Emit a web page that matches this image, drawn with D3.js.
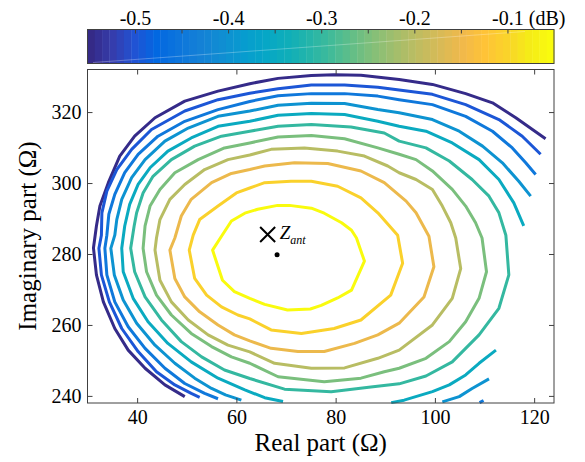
<!DOCTYPE html>
<html lang="en">
<head>
<meta charset="UTF-8">
<title>Contour</title>
<script src="https://cdn.jsdelivr.net/npm/d3@7"></script>
<style>
    body { margin: 0; background: #fff; }
    text { font-family: "Liberation Serif", "Times New Roman", serif; fill: #000; }
    .ax path { display: none; }
    .ax line { stroke: #404040; }
    .ax text { font-size: 20px; font-family: "Liberation Serif", "Times New Roman", serif; }
</style>
</head>
<body>
<svg id="chart" width="585" height="462"></svg>
<script>
// axis ranges and ticks
var xDomain = [30, 124];
var yDomain = [238, 332];
var cDomain = [-0.551, -0.05];
var xTicks = [40, 60, 80, 100, 120];
var yTicks = [240, 260, 280, 300, 320];
var cTicks = [-0.5, -0.45, -0.4, -0.35, -0.3, -0.25, -0.2, -0.15, -0.1];

// parula colormap stops
var parulaStops = ["#352a87", "#353dad", "#2053d4", "#0268e1", "#0d75dc", "#1481d6", "#108ed2", "#079ccf",
    "#06a7c6", "#0faeb9", "#25b5a9", "#42bb98", "#65be86", "#87bf77", "#a5be6b", "#c0bc60",
    "#d9ba56", "#f1b94a", "#ffc337", "#fad32a", "#f5eb18", "#f9fb0e"];

// contour lines, [real, imag] in ohm
var lvl055 = [[122.3,312.5],[116.3,318.4],[111.6,322.6],[106.2,325.2],[99.5,327.8],[92.8,329.2],[85.1,330.4],[79.7,330.5],[75.1,330.3],[68.4,329.5],[62.7,328],[56.3,325.9],[49.6,323.1],[43.6,318.4],[39.5,313.2],[36.5,307.6],[34.2,300.1],[32.5,293.5],[31.8,287.9],[31.2,281.7],[31.8,274.1],[33.2,266.5],[35.5,259],[38.2,252.9],[41.6,247.8],[45.6,243.1],[49.6,239.8]];
var lvl050 = [[121.3,308.1],[117.6,313.2],[112.9,317.9],[106.2,322.1],[99.5,325],[92.8,326.2],[88.5,327],[81.8,327.6],[75.1,327.6],[68.4,326.6],[62.7,325.3],[56.3,323.5],[49.6,320.3],[42.9,315.1],[38.9,309.5],[35.9,303.8],[33.9,297.7],[32.9,291.6],[32.8,285.3],[32.3,281.6],[32.8,274.1],[34.4,266.5],[36.9,259],[40.2,252.5],[43.9,246.8],[47.6,243.1],[50.9,240.7],[52.6,239.6]];
var lvl045 = [[120.3,302.4],[118.3,305.7],[115.6,309.9],[111.6,314.6],[106.2,318.8],[99.5,322.1],[92.8,323.5],[88.5,324.5],[81.8,325.2],[75.1,325.2],[68.4,324.6],[62.7,323],[56.3,320.7],[49.6,317.4],[44.2,313.2],[40.2,308.1],[37.5,302.9],[35.5,296.8],[34.3,291.2],[33.9,285.3],[33.5,281.6],[33.9,274.1],[35.5,266.5],[38.2,259.5],[41.6,253.4],[45.6,247.8],[49.6,243.5],[53.6,240.7],[56.3,239.2]];
var lvl045b = [[109.8,238.7],[109.0,238.1]];
var lvl040 = [[119.3,296.3],[116.9,300.5],[113.6,305.7],[109.6,310.4],[104.9,314.6],[99.5,317.9],[92.8,319.8],[88.5,320.7],[81.8,322.4],[75.1,322.5],[68.4,321.9],[62.7,320.3],[56.3,318.8],[50.3,315.5],[45.6,311.8],[41.6,306.6],[38.9,301.5],[36.9,295.4],[35.9,289.7],[35.5,285.3],[34.7,281.6],[35.4,274.1],[37.2,267],[39.9,260.5],[43.6,254.3],[47.6,249.2],[51.6,245],[55,242.1],[57.8,240.3],[61,238.8]];
var lvl040b = [[110.9,244.8],[107.5,242.1],[104.9,239.8],[101.5,238.3]];
var lvl035 = [[117.9,287.9],[115.9,294.4],[112.9,301],[108.9,306.6],[103.5,311.3],[98.2,314.6],[92.8,316],[88.5,317.4],[81.8,319.3],[75.1,319.6],[68.4,319.1],[62.7,317.4],[56.3,316],[50.9,312.7],[46.2,309],[42.6,304.3],[40.2,299.6],[38.5,294],[37.5,287.9],[36.9,281.6],[37.2,275],[39.2,267.5],[42.2,260.9],[46.2,254.8],[50.9,249.6],[56.3,245],[61.7,241.7],[65.7,239.5],[69.4,238.4]];
var lvl035b = [[112.3,252.9],[108.9,249.2],[106.2,245.9],[102.9,243.1],[99.5,241.2],[93.8,238.8],[91.2,238.1]];
var lvl030 = [[62.7,314.6],[57,313.2],[51.6,310.4],[46.9,306.6],[43.2,301.9],[41.2,297.2],[39.9,291.6],[39.4,287.9],[38.7,281.6],[39.5,275],[41.6,267.9],[44.9,261.4],[48.9,255.3],[53,251],[57.6,247.3],[62.7,244.9],[69.7,241.9],[79.1,241.2],[87.1,242.5],[92.8,243.4],[98.2,245.6],[103.5,249.6],[108.9,257.2],[112.9,264.7],[114.9,274.1],[114.3,285.3],[112.9,291.6],[110.9,296.3],[107.5,301],[102.9,306.2],[98.2,309.9],[92.8,311.8],[89.8,314.1],[83.1,315.8],[75.1,316.5],[68.4,316]];
var lvl025 = [[62.7,311.3],[57.6,309.9],[52.3,306.6],[47.6,302.9],[44.6,298.2],[42.6,293.5],[41.6,287.9],[41.2,281.6],[41.9,275],[43.9,268.4],[46.9,262.8],[50.9,257.6],[55,253.9],[59,251],[62.7,249.2],[68.4,245.4],[77.7,244],[85.1,245],[89.8,246.8],[92.8,247.8],[98.2,250.6],[102.9,255.3],[106.2,260.9],[108.9,267.5],[110.4,275],[109.5,284.5],[108.2,288.8],[106.2,293.5],[103.5,298.2],[99.5,303.4],[96.2,306.6],[92.8,308.1],[88.5,309.9],[81.8,312.5],[75.1,313.4],[68.4,313]];
var lvl020 = [[62.7,307.9],[58.3,306.6],[53.6,303.8],[49.6,299.6],[46.6,295.4],[44.6,289.7],[43.9,284.5],[43.6,281.1],[44.6,272.6],[46.9,266.5],[50.3,261.4],[54.3,257.2],[58.3,254.3],[62.7,252.4],[67.7,249.2],[75.1,247.8],[81.8,247.9],[88.5,250.6],[92.8,252.9],[99.5,260],[103.5,267.5],[105.2,275.9],[104.2,284.5],[103.2,288.8],[101.5,293.5],[99.5,298.2],[96.2,301],[92.8,302.9],[90.5,304.8],[85.8,307.6],[80.4,309],[73.7,309.9],[67,309.5]];
var lvl015 = [[62.7,303.8],[59,302.7],[55,300.1],[50.9,295.4],[48.9,290.7],[47.6,284.5],[46.6,281.1],[47.6,273.1],[49.6,267.9],[52.6,263.7],[56.3,260],[59.6,257.2],[62.7,255.5],[67,253.4],[72.4,252.5],[77.7,252.5],[83.8,254.8],[88.5,257.2],[92.8,260.5],[97.8,267.9],[99.8,276.4],[98.8,285],[96.2,291.6],[94.2,294.9],[89.8,300.1],[85.1,303.4],[78.4,305.5],[71.7,305.7],[65.7,304.8]];
var lvl010 = [[62.7,298.6],[60,297.2],[56.3,293.5],[52.6,289.7],[51.3,285.3],[50.5,281.1],[51.6,273.1],[54,268.4],[57,265.1],[60.3,262.8],[62.7,261.7],[67,258.6],[73.1,257.6],[79.7,259],[85.1,261.4],[91.1,268.4],[93.5,277.4],[92.5,285.3],[88.5,291.6],[85.1,295.8],[80.4,299.1],[75.1,300.5],[71,300.5],[65.7,300.1]];
var lvl005 = [[55.2,281.1],[57,285],[59,289.3],[61.7,291.5],[64.3,292.6],[68.3,293.7],[70.7,293.7],[75.1,292.9],[77.7,291.5],[81.2,288.8],[83.2,286.7],[84.2,284.5],[85.8,278],[83.2,269.8],[80.4,267.6],[77.1,265.5],[74.9,264.5],[70.3,264.2],[65.7,265.8],[62.7,267.5],[59.6,269.4],[57.2,272.6]];

// [level, points, closed]
var contourLines = [
    [-0.55, lvl055, false], [-0.50, lvl050, false],
    [-0.45, lvl045, false], [-0.45, lvl045b, false],
    [-0.40, lvl040, false], [-0.40, lvl040b, false],
    [-0.35, lvl035, false], [-0.35, lvl035b, false],
    [-0.30, lvl030, true], [-0.25, lvl025, true], [-0.20, lvl020, true],
    [-0.15, lvl015, true], [-0.10, lvl010, true], [-0.05, lvl005, true]
];

// antenna impedance marker and the dot below it
var zant = [66.3, 285.5];
var zdot = [68.2, 279.8];

var svg = d3.select("#chart");

var x = d3.scaleLinear().domain(xDomain).range([87.5, 554]);
var y = d3.scaleLinear().domain(yDomain).range([403, 69.5]);
var c = d3.scaleLinear().domain(cDomain).range([87.5, 554]);
var parula = d3.piecewise(d3.interpolateRgb, parulaStops);
var colorOf = function (v) {
    return parula((v - cDomain[0]) / (cDomain[1] - cDomain[0]));
};

// strip the default axis font so the css serif applies
var plain = function (g) {
    g.attr("font-family", null).attr("font-size", null);
    g.selectAll("text")
        .style("font-family", "'Liberation Serif', 'Times New Roman', serif")
        .style("font-size", "20px");
};

// colorbar
var cbTop = 29.5, cbBottom = 63.5;
var bands = d3.range(64);
var band = d3.scaleBand().domain(bands).range([87.5, 554]);
svg.append("g").selectAll("rect")
    .data(bands)
    .enter().append("rect")
    .attr("x", function (d) { return band(d); })
    .attr("y", cbTop)
    .attr("width", band.bandwidth() + 0.4)
    .attr("height", cbBottom - cbTop)
    .attr("fill", function (d) { return parula(d / 63); });

// faint streak across the bar
svg.append("line")
    .attr("x1", 93).attr("y1", 62.5).attr("x2", 525).attr("y2", 31.5)
    .attr("stroke", "#fff").attr("stroke-opacity", 0.35).attr("stroke-width", 0.8);

svg.append("rect")
    .attr("x", 87.5).attr("y", cbTop).attr("width", 554 - 87.5).attr("height", cbBottom - cbTop)
    .attr("fill", "none").attr("stroke", "#404040").attr("stroke-width", 1);

var isLabel = function (d) { return Math.abs(d * 10 - Math.round(d * 10)) < 1e-6; };
var cAxis = svg.append("g").attr("class", "ax")
    .attr("transform", "translate(0," + cbTop + ")")
    .call(d3.axisTop(c).tickValues(cTicks).tickSize(-4).tickPadding(4.5)
        .tickFormat(function (d) { return isLabel(d) ? d.toFixed(1) : ""; }))
    .call(plain);

cAxis.selectAll(".tick").filter(function (d) { return Math.abs(d - cTicks[cTicks.length - 1]) < 1e-9; })
    .each(function () {
        var t = d3.select(this).select("text");
        var w = t.node().getComputedTextLength();
        d3.select(this).append("text")
            .attr("x", w / 2 + 5)
            .attr("y", t.attr("y"))
            .attr("text-anchor", "start")
            .style("font-size", "20px")
            .text("(dB)");
    });

// contour lines
var line = d3.line()
    .x(function (d) { return x(d[0]); })
    .y(function (d) { return y(d[1]); });

svg.append("g").selectAll("path")
    .data(contourLines)
    .enter().append("path")
    .attr("d", function (d) { return line(d[1]) + (d[2] ? "Z" : ""); })
    .attr("fill", "none")
    .attr("stroke", function (d) { return colorOf(d[0]); })
    .attr("stroke-width", 3)
    .attr("stroke-linejoin", "round");

// plot box and ticks
svg.append("rect")
    .attr("x", 87.5).attr("y", 69.5).attr("width", 554 - 87.5).attr("height", 403 - 69.5)
    .attr("fill", "none").attr("stroke", "#404040").attr("stroke-width", 1);

svg.append("g").attr("class", "ax")
    .attr("transform", "translate(0,403)")
    .call(d3.axisBottom(x).tickValues(xTicks).tickSize(-5).tickPadding(7))
    .call(plain);
svg.append("g").attr("class", "ax")
    .attr("transform", "translate(0,69.5)")
    .call(d3.axisTop(x).tickValues(xTicks).tickSize(-5).tickFormat(""));
svg.append("g").attr("class", "ax")
    .attr("transform", "translate(87.5,0)")
    .call(d3.axisLeft(y).tickValues(yTicks).tickSize(-5).tickPadding(6))
    .call(plain);
svg.append("g").attr("class", "ax")
    .attr("transform", "translate(554,0)")
    .call(d3.axisRight(y).tickValues(yTicks).tickSize(-5).tickFormat(""));

// axis titles
svg.append("text")
    .attr("x", 320.75).attr("y", 451)
    .attr("text-anchor", "middle")
    .style("font-size", "25px")
    .text("Real part (\u03A9)");
svg.append("text")
    .attr("transform", "translate(36,236) rotate(-90)")
    .attr("text-anchor", "middle")
    .style("font-size", "25px")
    .text("Imaginary part (\u03A9)");

// Z_ant marker
var mx = x(zant[0]), my = y(zant[1]);
svg.append("path")
    .attr("d", "M" + (mx - 7.5) + "," + (my - 7.5) + "L" + (mx + 7.5) + "," + (my + 7.5) +
        "M" + (mx + 7.5) + "," + (my - 7.5) + "L" + (mx - 7.5) + "," + (my + 7.5))
    .attr("stroke", "#000").attr("stroke-width", 2).attr("fill", "none");

var lab = svg.append("text")
    .attr("x", mx + 12).attr("y", my + 5)
    .style("font-size", "19px").style("font-style", "italic");
lab.append("tspan").text("Z");
lab.append("tspan").attr("dy", 5).style("font-size", "12px").text("ant");

svg.append("circle")
    .attr("cx", x(zdot[0])).attr("cy", y(zdot[1])).attr("r", 2.5)
    .attr("fill", "#000");
</script>
</body>
</html>
